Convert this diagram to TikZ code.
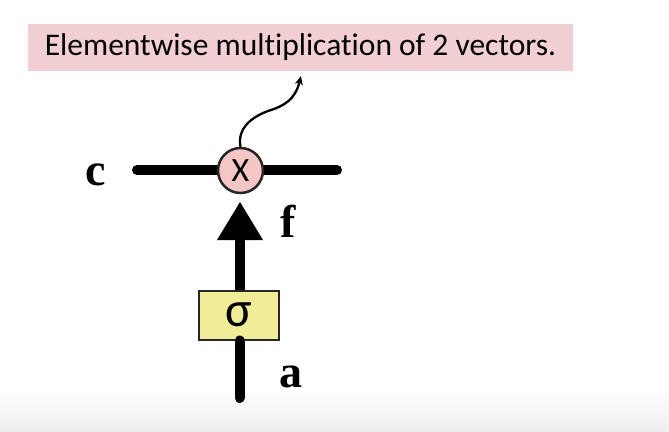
\documentclass[tikz,border=0pt]{standalone}
\usepackage{fontspec}
\setmainfont{Liberation Serif}
\newfontfamily\carlito[Ligatures=NoCommon]{Carlito}
\usetikzlibrary{arrows.meta}
\definecolor{boxpink}{HTML}{F2CFD2}
\definecolor{circpink}{HTML}{F4C6C6}
\definecolor{sigyellow}{HTML}{F0EC98}
\definecolor{bggray}{HTML}{EEEEEE}
\tikzset{
  wire/.style={line width=10pt, line cap=round},
  thin arrow/.style={line width=2.3pt, -{Stealth[length=9pt,width=8pt]}},
  lbl/.style={font=\bfseries\fontsize{46}{46}\selectfont, inner sep=0pt},
}
\begin{document}
\begin{tikzpicture}[x=1pt,y=-1pt]
\useasboundingbox (0,0) rectangle (669,431);
\fill[white] (0,0) rectangle (669,431);
\shade[top color=white, bottom color=bggray] (0,388) rectangle (669,431);
% title box
\node[fill=boxpink, minimum width=545pt, minimum height=47pt, inner sep=0pt,
      font=\carlito\fontsize{31.5}{31.5}\selectfont] (title) at (300.5,47.5)
      {Elementwise multiplication of 2 vectors.};
% horizontal wire
\coordinate (cl) at (137,170);
\coordinate (cr) at (337,170);
\draw[wire] (cl) -- (cr);
% multiply circle
\node[circle, fill=circpink, draw=black!85, line width=2.5pt, minimum size=45pt, inner sep=0pt,
      font=\carlito\fontsize{34}{34}\selectfont] (mul) at (240.5,170.5) {X};
% sigma box
\node[rectangle, fill=sigyellow, draw=black!85, line width=2pt, minimum width=80pt, minimum height=49pt,
      inner sep=0pt, font=\carlito\fontsize{50}{50}\selectfont] (sig) at (238.5,315) {σ};
\coordinate (bot) at (239.5,398);
\coordinate (tip) at (240,202);
\draw[wire] (bot) -- (bot |- sig.south);
\draw[wire, line cap=butt] (bot |- sig.north) -- (239.5,238);
\fill (tip) -- (263,240) -- (217,240) -- cycle;
% curved output arrow
\coordinate (out) at (301,76);
\draw[thin arrow] (mul.north) .. controls (237,128) and (252,117) .. (268,111)
   .. controls (284,106) and (295,100) .. (out);
% labels
\node[lbl] (c) at (96,175) {c};
\node[lbl] (f) at (288,221) {f};
\node[lbl] (a) at (291,377) {a};
\end{tikzpicture}
\end{document}
